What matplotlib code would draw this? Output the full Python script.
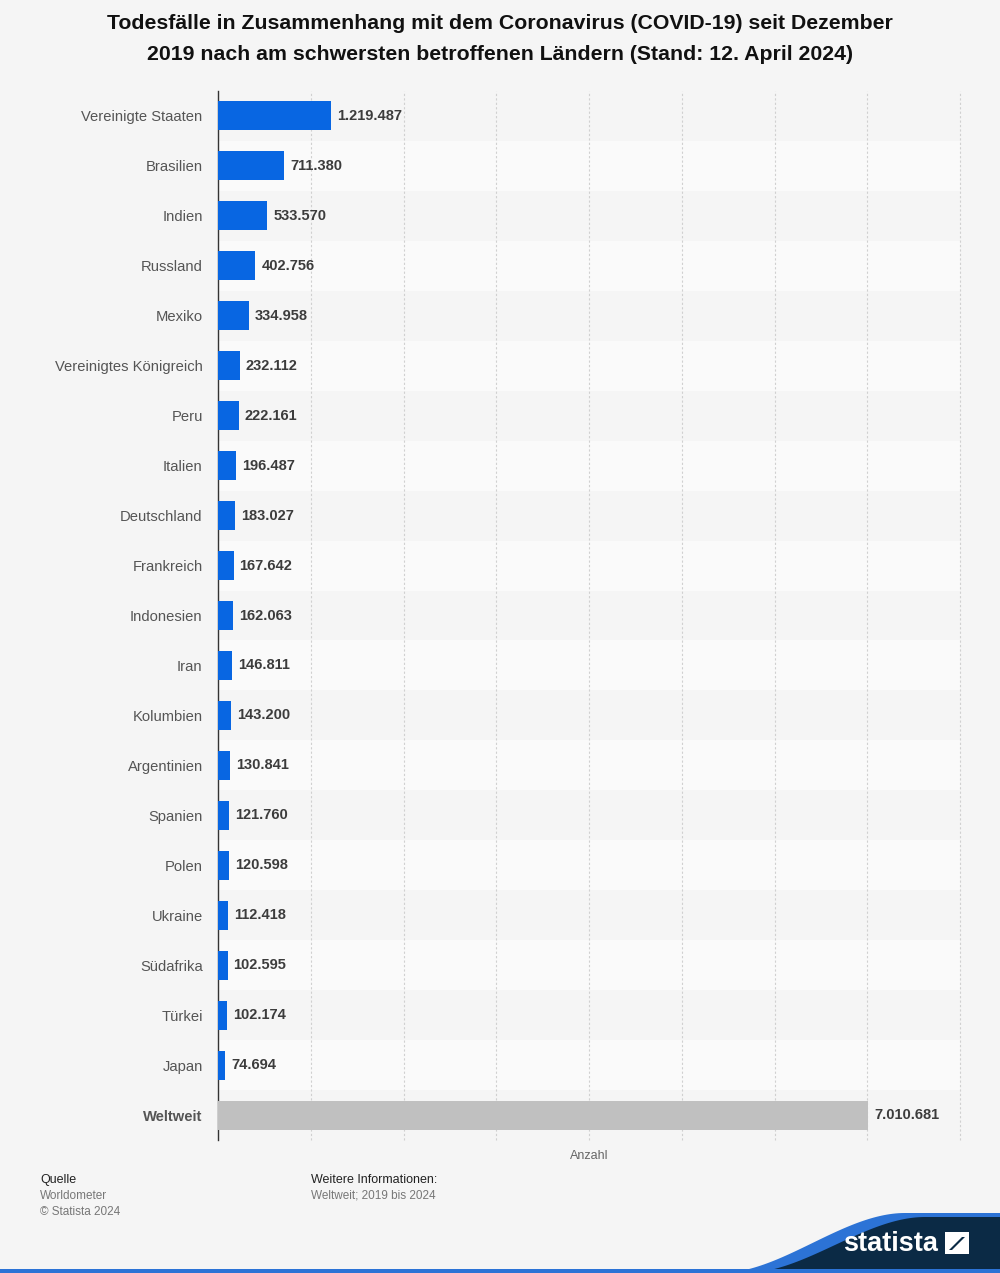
import numpy as np
import matplotlib.pyplot as plt
from matplotlib.patches import Polygon, Rectangle

plt.rcParams['font.family'] = ['Liberation Sans', 'DejaVu Sans']

countries = ['Vereinigte Staaten', 'Brasilien', 'Indien', 'Russland', 'Mexiko',
             'Vereinigtes Königreich', 'Peru', 'Italien', 'Deutschland', 'Frankreich',
             'Indonesien', 'Iran', 'Kolumbien', 'Argentinien', 'Spanien', 'Polen',
             'Ukraine', 'Südafrika', 'Türkei', 'Japan', 'Weltweit']
deaths = [1219487, 711380, 533570, 402756, 334958, 232112, 222161, 196487,
          183027, 167642, 162063, 146811, 143200, 130841, 121760, 120598,
          112418, 102595, 102174, 74694, 7010681]

bg = '#f5f5f5'
fig = plt.figure(figsize=(10, 12.73), dpi=100, facecolor=bg)
ax = fig.add_axes([0.218, 1 - 1140 / 1273, 0.742, (1140 - 91) / 1273])
ax.set_facecolor(bg)

n = len(countries)
y = np.arange(n)
for i in y:
    if i % 2 == 1:
        ax.axhspan(i - 0.5, i + 0.5, color='#fafafa', zorder=0, lw=0)

colors = ['#0866e2'] * (n - 1) + ['#c0c0c0']
ax.barh(y, deaths, height=0.58, color=colors, zorder=3)

def fmt(v):
    return f'{v:,}'.replace(',', '.')

for yi, v in zip(y, deaths):
    ax.text(v + 65000, yi, fmt(v), va='center', ha='left', fontsize=10.5,
            fontweight='bold', color='#3c3c3c', zorder=4)

ax.set_xlim(0, 8000000)
ax.set_ylim(n - 0.5, -0.5)
for gx in np.arange(1000000, 8000001, 1000000):
    ax.axvline(gx, color='#d0d0d0', linestyle=(0, (2, 2)), lw=0.8, zorder=1, clip_on=False)
ax.set_xticks([])
ax.set_yticks(y)
ax.set_yticklabels(countries, fontsize=10.6, color='#555555')
ax.get_yticklabels()[-1].set_fontweight('bold')
ax.tick_params(axis='y', length=0, pad=11)
for s in ['top', 'right', 'bottom']:
    ax.spines[s].set_visible(False)
ax.spines['left'].set_color('#333333')
ax.spines['left'].set_linewidth(1.0)

ax.set_xlabel('Anzahl', fontsize=9, color='#666666', labelpad=7)

fig.text(0.5, 1 - 39 / 1273, 'Todesfälle in Zusammenhang mit dem Coronavirus (COVID-19) seit Dezember\n'
         '2019 nach am schwersten betroffenen Ländern (Stand: 12. April 2024)',
         ha='center', va='center', fontsize=15.3, fontweight='bold', color='#111111',
         linespacing=1.85)

fig.text(40 / 1000, 1 - 1180 / 1273, 'Quelle', fontsize=9, color='#222222', va='center')
fig.text(40 / 1000, 1 - 1196 / 1273, 'Worldometer', fontsize=8.5, color='#777777', va='center')
fig.text(40 / 1000, 1 - 1212 / 1273, '© Statista 2024', fontsize=8.5, color='#777777', va='center')
fig.text(311 / 1000, 1 - 1180 / 1273, 'Weitere Informationen:', fontsize=9, color='#222222', va='center')
fig.text(311 / 1000, 1 - 1196 / 1273, 'Weltweit; 2019 bis 2024', fontsize=8.5, color='#777777', va='center')

# statista logo wave
W, H = 1000, 1273
t = np.linspace(0, 1, 60)
xs = 720 + 185 * t
ys = 1273 - (60 * (3 * t ** 2 - 2 * t ** 3))
edge_blue = [(x / W, 1 - yy / H) for x, yy in zip(xs, ys)]
shape_blue = [(720 / W, 0)] + edge_blue + [(1, 1 - 1213 / H), (1, 0)]
fig.patches.append(Polygon(shape_blue, closed=True, transform=fig.transFigure,
                           facecolor='#2c73d6', edgecolor='none', zorder=1))
xs2 = 745 + 180 * t
ys2 = 1273 - (56 * (3 * t ** 2 - 2 * t ** 3))
edge_navy = [(x / W, 1 - yy / H) for x, yy in zip(xs2, ys2)]
shape_navy = [(745 / W, 0)] + edge_navy + [(1, 1 - 1217 / H), (1, 0)]
fig.patches.append(Polygon(shape_navy, closed=True, transform=fig.transFigure,
                           facecolor='#0b2a45', edgecolor='none', zorder=2))
fig.patches.append(Rectangle((0, 0), 1, 4 / H, transform=fig.transFigure,
                             facecolor='#2c73d6', edgecolor='none', zorder=3))
fig.text(843 / W, 1 - 1244 / H, 'statista', fontsize=19.5, fontweight='bold',
         color='white', va='center', ha='left', zorder=5)
fig.patches.append(Rectangle((945 / W, 1 - 1254 / H), 24 / W, 22 / H, transform=fig.transFigure,
                             facecolor='white', edgecolor='none', zorder=4))
fig.patches.append(Polygon([(949 / W, 1 - 1250 / H), (962 / W, 1 - 1237 / H),
                            (965 / W, 1 - 1237 / H), (952 / W, 1 - 1250 / H)],
                           closed=True, transform=fig.transFigure,
                           facecolor='#0b2a45', edgecolor='none', zorder=5))

fig.savefig('out.png', dpi=100, facecolor=bg)
